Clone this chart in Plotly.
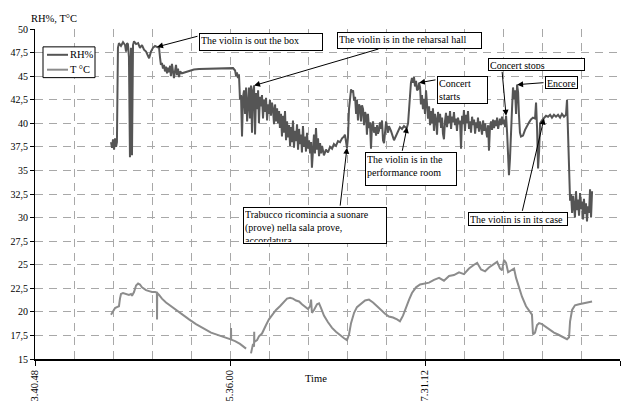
import plotly.graph_objects as go

# Logger record, time in minutes after 3.40.48
tick_labels = ["3.40.48", "5.36.00", "7.31.12", "9.26.24"]
tick_minutes = [0, 115.2, 230.4, 345.6]

rh_min = [44.9, 45.5, 46.1, 46.7, 47.3, 47.9, 48.4, 49.0, 49.6, 50.8, 52.0, 53.2, 53.8, 54.4, 54.9,
          55.5, 56.1, 56.7, 57.3, 57.9, 58.5, 59.7, 60.9, 62.0, 63.2, 64.4, 65.6, 66.8, 67.4, 68.5,
          69.7, 70.9, 72.1, 73.3, 73.9, 74.4, 75.0, 75.6, 76.2, 76.8, 77.4, 78.0, 78.6, 79.2, 79.8,
          80.3, 80.9, 81.5, 82.1, 82.7, 83.3, 83.9, 84.5, 85.1, 85.7, 86.8, 88.6, 91.0, 93.9, 96.9,
          102.8, 108.7, 114.6, 117.0, 118.2, 118.8, 119.3, 119.9, 120.5, 121.1, 121.7, 122.3, 122.9,
          123.5, 124.1, 124.7, 125.3, 125.8, 126.4, 127.0, 127.6, 128.2, 128.8, 129.4, 130.0, 130.6,
          131.2, 131.8, 132.3, 132.9, 133.5, 134.1, 134.7, 135.3, 135.9, 136.5, 137.1, 137.7, 138.2,
          138.8, 139.4, 140.0, 140.6, 141.2, 141.8, 142.4, 143.0, 143.6, 144.2, 144.7, 145.3, 145.9,
          146.5, 147.1, 147.7, 148.3, 148.9, 149.5, 150.1, 150.7, 151.2, 151.8, 152.4, 153.0, 153.6,
          154.2, 154.8, 155.4, 156.0, 156.6, 157.2, 157.7, 158.3, 158.9, 159.5, 160.1, 160.7, 161.3,
          161.9, 162.5, 163.1, 163.6, 164.2, 164.8, 165.4, 166.0, 166.6, 167.2, 167.8, 168.4, 169.0,
          169.6, 170.7, 171.9, 173.1, 174.3, 175.5, 176.6, 177.8, 179.0, 180.2, 181.4, 182.6, 183.1,
          184.3, 184.9, 185.5, 186.1, 186.7, 187.3, 187.9, 188.5, 189.1, 189.7, 190.2, 190.8, 191.4,
          192.0, 192.6, 193.2, 193.8, 194.4, 195.0, 195.6, 196.1, 196.7, 197.3, 197.9, 198.5, 199.1,
          199.7, 200.3, 200.9, 201.5, 202.1, 202.6, 203.2, 203.8, 204.4, 205.0, 205.6, 206.2, 206.8,
          207.4, 208.0, 208.6, 209.1, 210.3, 212.1, 213.9, 215.6, 216.8, 218.0, 219.2, 219.8, 220.4,
          221.0, 221.6, 222.1, 222.7, 223.3, 223.9, 224.5, 225.1, 225.7, 226.3, 226.9, 227.5, 228.0,
          228.6, 229.2, 229.8, 230.4, 231.0, 231.6, 232.2, 232.8, 233.4, 234.0, 234.5, 235.1, 235.7,
          236.3, 236.9, 237.5, 238.1, 238.7, 239.3, 239.9, 240.5, 241.0, 241.6, 242.2, 242.8, 243.4,
          244.0, 244.6, 245.2, 245.8, 246.4, 247.0, 247.5, 248.1, 248.7, 249.3, 249.9, 250.5, 251.1,
          251.7, 252.3, 252.9, 253.4, 254.0, 254.6, 255.2, 255.8, 256.4, 257.0, 257.6, 258.2, 258.8,
          259.4, 260.0, 260.6, 261.2, 261.7, 262.3, 262.9, 263.5, 264.1, 264.7, 265.3, 265.9, 266.5,
          267.1, 267.7, 268.2, 268.8, 269.4, 270.0, 270.6, 271.2, 271.8, 272.4, 273.0, 273.6, 274.1,
          274.7, 275.3, 275.9, 276.5, 277.1, 277.7, 278.3, 278.9, 279.5, 280.0, 280.6, 281.2, 281.8,
          282.4, 283.0, 283.6, 284.2, 284.8, 285.4, 285.9, 286.5, 287.1, 288.3, 289.5, 290.7, 291.9,
          293.0, 294.2, 295.4, 296.0, 296.6, 297.2, 297.8, 298.4, 299.5, 300.7, 301.9, 303.1, 304.3,
          305.4, 306.6, 307.8, 309.0, 310.2, 311.3, 312.5, 313.7, 314.3, 314.9, 315.5, 316.1, 316.7,
          317.3, 317.9, 318.4, 319.0, 319.6, 320.2, 320.8, 321.4, 322.0, 322.6, 323.2, 323.8, 324.3,
          324.9, 325.5, 326.1, 326.7, 327.3, 327.9, 328.5, 329.1]

rh_val = [38.0, 37.4, 38.3, 37.2, 38.4, 37.5, 38.0, 48.0, 48.5, 48.2, 48.6, 48.3, 47.6, 48.5, 48.4,
          47.0, 36.4, 48.0, 36.6, 48.3, 48.7, 48.4, 48.5, 48.0, 48.3, 47.8, 47.6, 47.1, 46.9, 47.6,
          48.0, 48.2, 48.1, 48.0, 46.9, 46.2, 46.4, 45.8, 46.2, 45.5, 46.0, 45.3, 45.9, 45.4, 46.1,
          45.0, 46.3, 45.6, 44.8, 45.5, 46.2, 45.1, 45.8, 44.9, 45.5, 45.3, 45.4, 45.6, 45.7, 45.75,
          45.8, 45.85, 45.9, 45.85, 45.6, 45.0, 45.4, 44.8, 45.2, 42.5, 43.0, 38.6, 42.8,
          43.5, 41.0, 43.8, 40.2, 42.9, 43.8, 40.5, 44.0, 39.0, 43.5, 44.0, 38.8, 43.2,
          41.5, 43.5, 40.0, 42.8, 41.8, 43.0, 40.5, 42.5, 41.2, 42.7, 40.3, 42.0, 41.0,
          42.5, 40.8, 42.2, 41.5, 39.9, 42.0, 40.2, 41.6, 40.0, 41.3, 39.5, 41.0, 38.6,
          40.8, 39.0, 41.3, 38.2, 40.2, 38.5, 39.8, 37.6, 39.6, 38.0, 40.3, 37.4, 39.2,
          38.1, 39.9, 37.2, 39.4, 37.8, 38.8, 36.9, 39.7, 37.5, 38.6, 37.0, 39.0, 37.3,
          38.2, 36.8, 38.0, 35.3, 37.6, 38.8, 36.8, 39.5, 37.2, 38.4, 36.5, 37.9, 36.8,
          37.6, 36.6, 37.2, 36.9, 37.5, 37.3, 37.8, 37.6, 38.1, 38.0, 38.4, 38.6, 38.8,
          37.4, 38.5, 41.5, 43.0, 43.6, 43.3, 43.5, 42.4, 42.8, 41.0, 42.5, 40.3, 42.0,
          41.8, 40.2, 41.9, 41.5, 39.8, 41.2, 40.8, 38.8, 41.0, 39.5, 40.1, 37.3, 39.8,
          40.2, 39.0, 39.6, 38.7, 39.8, 38.9, 39.2, 40.1, 39.4, 40.3, 38.2, 37.9, 39.5,
          40.2, 39.6, 39.0, 39.7, 39.2, 38.2, 38.9, 39.6, 39.4, 39.7, 39.5, 39.6, 40.0,
          41.5, 43.2, 44.3, 44.8, 44.3, 44.9, 43.9, 44.5, 43.5, 43.6, 44.3, 43.8, 42.0,
          43.0, 41.5, 42.6, 41.0, 43.5, 42.2, 40.5, 41.8, 39.8, 41.3, 40.0, 41.6, 39.2,
          41.0, 40.4, 38.8, 41.2, 40.1, 41.0, 39.5, 40.6, 38.9, 38.3, 40.2, 41.1, 39.6,
          40.8, 40.0, 41.3, 39.4, 40.7, 40.1, 41.2, 39.8, 40.5, 39.2, 40.6, 39.9, 40.3,
          37.3, 40.8, 39.9, 41.4, 39.2, 40.9, 40.0, 41.3, 39.4, 40.2, 39.0, 40.7, 39.8,
          40.4, 38.9, 40.1, 39.5, 40.6, 39.1, 40.2, 39.6, 38.8, 40.3, 39.2, 40.0, 39.4,
          38.5, 39.8, 37.1, 39.6, 40.2, 39.3, 40.4, 39.5, 40.3, 39.7, 40.6, 39.4, 40.1,
          40.5, 39.8, 40.7, 39.9, 40.4, 39.6, 40.8, 39.0, 36.5, 34.5, 36.2, 39.8, 41.5,
          43.8, 42.6, 43.5, 41.0, 44.1, 43.3, 40.9, 39.0, 38.6, 38.7, 39.3, 39.8, 40.1,
          40.4, 40.6, 40.5, 42.2, 39.5, 35.2, 37.0, 40.0, 40.3, 40.5, 40.8, 40.7, 40.9,
          40.6, 40.9, 40.7, 40.9, 40.6, 41.0, 40.7, 40.9, 42.5, 39.0, 33.0, 31.8, 32.5,
          30.5, 32.3, 31.0, 30.0, 32.8, 30.8, 31.9, 30.2, 32.6, 30.9, 31.7, 29.8, 32.0,
          30.4, 31.5, 29.6, 31.2, 30.5, 33.0, 30.0, 32.8]

t_min = [44.9, 46.1, 47.3, 48.4, 49.6, 50.2, 50.8, 52.0, 53.8, 55.5, 56.7, 57.3, 58.5, 59.7, 60.9,
         62.0, 63.2, 64.4, 65.6, 67.4, 69.1, 70.9, 72.0, 72.1, 72.2, 73.3, 75.0, 77.4, 80.3, 83.3,
         86.8, 91.0, 95.1, 99.8, 104.0, 108.7, 113.4, 115.7, 115.8, 115.9, 118.2, 121.1, 124.7,
         126.0,
         127.6, 128.2, 128.8, 129.4, 129.5, 129.6, 131.2, 132.3, 134.1, 135.3, 136.5, 138.2, 140.6,
         142.4, 144.7, 147.1, 148.9, 150.7, 152.4, 154.2, 156.0, 157.7, 159.5, 161.3, 162.5, 163.1,
         163.6, 164.8, 166.6, 167.8, 169.0, 170.7, 173.1, 175.5, 177.8, 180.2, 182.6, 184.3, 185.5,
         186.7, 188.5, 190.2, 192.6, 195.0, 197.3, 199.7, 202.1, 204.4, 206.8, 209.1, 211.5, 213.9,
         215.6, 217.4, 219.2, 221.0, 222.7, 225.1, 227.5, 229.8, 232.8, 235.7, 238.7, 241.6, 244.6,
         247.5, 250.5, 253.4, 256.4, 259.4, 261.2, 263.5, 265.9, 268.2, 270.6, 273.0, 274.7, 275.9,
         277.1, 278.3, 279.5, 281.2, 283.0, 284.2, 285.9, 287.7, 290.1, 292.4, 293.6, 294.2, 295.4,
         296.6, 297.8, 299.5, 301.9, 304.3, 306.6, 309.0, 311.3, 314.3, 315.5, 316.1, 317.3, 319.0,
         321.4, 324.3, 327.3, 329.1]

t_val = [19.7, 20.1, 20.4, 20.5, 20.6, 21.4, 21.9, 22.0, 21.9, 21.8, 21.9, 21.7, 22.1, 22.8, 23.0,
         22.9, 22.6, 22.4, 22.3, 22.2, 22.1, 22.1, 22.05, 19.2, 22.0, 21.8, 21.4, 21.0, 20.6, 20.2,
         19.8, 19.2, 18.7, 18.2, 17.8, 17.5, 17.2, 17.08, 18.3, 17.05, 16.9, 16.6, 16.1,
         None,
         15.6, 16.2, 16.6, 16.3, 17.9, 16.8, 17.0, 17.4, 17.7, 18.2, 18.6, 19.2, 19.8,
         20.2, 20.6, 21.1, 21.4, 21.5, 21.4, 21.2, 21.1, 20.8, 20.5, 20.3, 20.6, 21.3,
         19.9, 20.2, 20.8, 20.9, 20.4, 19.6, 18.9, 18.3, 17.9, 17.5, 17.2, 17.0, 17.6,
         18.8, 19.9, 20.5, 20.9, 21.2, 21.3, 21.0, 20.6, 20.2, 19.8, 19.5, 19.4, 19.2,
         19.0, 19.6, 20.5, 21.3, 22.0, 22.6, 22.9, 23.0, 23.1, 23.4, 23.6, 23.3, 23.8,
         23.9, 24.2, 24.0, 24.6, 25.0, 25.2, 24.5, 24.3, 24.7, 25.0, 25.3, 24.6, 24.4,
         25.5, 25.2, 24.2, 24.4, 24.6, 23.6, 22.6, 21.6, 20.6, 20.0, 19.7, 17.6, 17.8,
         18.6, 18.8, 18.7, 18.4, 18.1, 17.8, 17.6, 17.4, 17.1, 17.3, 19.0, 20.2, 20.7,
         20.8, 20.9, 21.0, 21.1]

# Event notes: (text, time of the marked RH reading, box left/top/right/bottom px, arrow tail px)
notes = [
    ("The violin is out the box", 72.1, (199, 33, 323, 51), (199, 36)),
    ("The violin is in the reharsal hall", 129.4, (337, 32, 482, 49), (380, 49)),
    ("Concert<br>starts", 226.9, (437, 76, 488, 104), (437, 80)),
    ("Concert stops", 278.3, (488, 58, 585, 71), (502, 71)),
    ("Encore", 284.8, (545, 76, 578, 89), (545, 83)),
    ("The violin is in the<br>performance room", 219.8, (365, 153, 457, 187), (402, 153)),
    ("Trabucco ricomincia a suonare<br>(prove) nella sala prove,<br>accordatura", 184.3,
     (243, 208, 387, 245), (340, 208)),
    ("The violin is in its case", 300.7, (468, 213, 568, 227), (522, 213)),
]

W, H = 622, 403
L, R, T, B = 35, 2, 29, 41.5
PW, PH = W - L - R, H - T - B
X0, X1 = 0, 345.6
Y0, Y1 = 15, 50

FONT = "Liberation Serif"
RH_COLOR = "#555555"
T_COLOR = "#8c8c8c"
GRID = "#a8a8a8"


def px_x(m):
    return L + (m - X0) / (X1 - X0) * PW


def px_y(v):
    return T + (Y1 - v) / (Y1 - Y0) * PH


def paper_x(px):
    return (px - L) / PW


def paper_y(py):
    return 1 - (py - T) / PH


fig = go.Figure()
fig.add_trace(go.Scatter(x=rh_min, y=rh_val, mode="lines", name="RH%",
                         line=dict(color=RH_COLOR, width=2), connectgaps=False))
fig.add_trace(go.Scatter(x=t_min, y=t_val, mode="lines", name="T °C",
                         line=dict(color=T_COLOR, width=2), connectgaps=False))

annotations = []
shapes = []
bw, pad = 1, 1
for text, tm, (bl, bt, br, bb), (tx, ty) in notes:
    idx = min(range(len(rh_min)), key=lambda i: abs(rh_min[i] - tm))
    vx, vy = rh_min[idx], rh_val[idx]
    annotations.append(dict(
        x=paper_x(bl), y=paper_y(bt), xref="paper", yref="paper",
        xanchor="left", yanchor="top", text=text, showarrow=False,
        width=(br - bl) - 2 * (bw + pad), height=(bb - bt) - 2 * (bw + pad),
        align="left", valign="top", bgcolor="white", bordercolor="black",
        borderwidth=bw, borderpad=pad, font=dict(family=FONT, size=10, color="black")))
    annotations.append(dict(
        x=vx, y=vy, xref="x", yref="y", text="", showarrow=True,
        ax=tx - px_x(vx), ay=ty - px_y(vy), arrowhead=2, arrowsize=1.2,
        arrowwidth=1, arrowcolor="black", standoff=0))

# axis captions
annotations.append(dict(x=paper_x(29), y=paper_y(18), xref="paper", yref="paper",
                        xanchor="left", yanchor="middle", text="RH%, T°C", showarrow=False,
                        font=dict(family=FONT, size=10.5, color="black")))
annotations.append(dict(x=paper_x(316), y=paper_y(381), xref="paper", yref="paper",
                        xanchor="center", yanchor="middle", text="Time", showarrow=False,
                        font=dict(family=FONT, size=10.5, color="black")))

# legend box
shapes.append(dict(type="rect", xref="paper", yref="paper",
                   x0=paper_x(43), x1=paper_x(95), y0=paper_y(47), y1=paper_y(78),
                   line=dict(color="black", width=1), fillcolor="white", layer="above"))
for name, color, ly in (("RH%", RH_COLOR, 55), ("T °C", T_COLOR, 70)):
    shapes.append(dict(type="line", xref="paper", yref="paper",
                       x0=paper_x(47), x1=paper_x(68), y0=paper_y(ly), y1=paper_y(ly),
                       line=dict(color=color, width=2), layer="above"))
    annotations.append(dict(x=paper_x(68), y=paper_y(ly), xref="paper", yref="paper",
                            xanchor="left", yanchor="middle", text=name, showarrow=False,
                            font=dict(family=FONT, size=10.5, color="black")))

minor_vals = [23.04 * i for i in range(1, 15) if i % 5 != 0]

fig.update_layout(
    width=W, height=H, margin=dict(l=L, r=R, t=T, b=B, pad=0),
    plot_bgcolor="white", paper_bgcolor="white", showlegend=False,
    separators=",.", font=dict(family=FONT, size=10, color="black"),
    annotations=annotations, shapes=shapes,
    xaxis=dict(range=[X0, X1], tickmode="array", tickvals=tick_minutes, ticktext=tick_labels,
               tickangle=-90, ticks="outside", ticklen=5, tickcolor="black",
               showline=True, linecolor="black", linewidth=1.5,
               showgrid=True, gridcolor=GRID, gridwidth=1, griddash="8px,6px",
               minor=dict(tickmode="array", tickvals=minor_vals, showgrid=True,
                          gridcolor=GRID, gridwidth=1, griddash="8px,6px", ticks=""),
               zeroline=False, tickfont=dict(family=FONT, size=10.5)),
    yaxis=dict(range=[Y0, Y1], tick0=15, dtick=2.5, ticks="outside", ticklen=4,
               tickcolor="black", showline=True, linecolor="black", linewidth=1,
               showgrid=True, gridcolor=GRID, gridwidth=1, griddash="8px,6px",
               zeroline=False, tickfont=dict(family=FONT, size=10)),
)

fig.write_html("out.html")
